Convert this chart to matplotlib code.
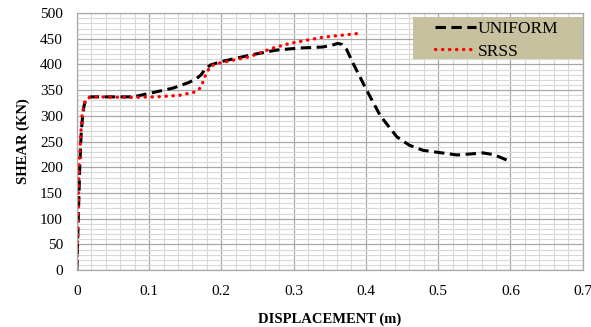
import matplotlib
matplotlib.use("Agg")
import matplotlib.pyplot as plt
from matplotlib.patches import Rectangle
from matplotlib.ticker import MultipleLocator

plt.rcParams['font.family'] = ['Liberation Serif', 'DejaVu Serif']

# UNIFORM load pattern (black dashed)
uni_x = [0.0, 0.002, 0.004, 0.006, 0.008, 0.010, 0.0125, 0.016, 0.02, 0.032, 0.078, 0.101,
         0.133, 0.155, 0.166, 0.172, 0.178, 0.185, 0.198, 0.239, 0.276, 0.308, 0.34,
         0.352, 0.361, 0.367, 0.373, 0.382, 0.401, 0.42, 0.443, 0.46, 0.479, 0.5,
         0.526, 0.545, 0.562, 0.575, 0.585, 0.595]
uni_y = [0, 100, 200, 265, 300, 320, 332, 336, 337, 337, 337, 344,
         354, 365, 373, 380, 392, 399, 405, 418, 428, 432, 434,
         437, 441, 439, 430, 403, 350, 300, 259, 243, 233, 229,
         224, 226, 228, 225, 220, 214]

# SRSS load pattern (red dotted)
srss_x = [0.0, 0.002, 0.003, 0.005, 0.007, 0.010, 0.012, 0.016, 0.02, 0.078, 0.11, 0.142,
          0.165, 0.172, 0.177, 0.184, 0.19, 0.198, 0.239, 0.271, 0.295, 0.34, 0.394]
srss_y = [0, 110, 200, 250, 298, 322, 331, 335, 337, 336, 337, 340,
          347, 356, 376, 395, 400, 403, 415, 432, 441, 453, 461]

x_ticks = [0, 0.1, 0.2, 0.3, 0.4, 0.5, 0.6, 0.7]
x_labels = ["0", "0.1", "0.2", "0.3", "0.4", "0.5", "0.6", "0.7"]

fig = plt.figure(figsize=(5.91, 3.27), dpi=100)
ax = fig.add_axes([0.130, 0.174, 0.856, 0.786])

ax.plot(uni_x, uni_y, color="black", lw=2.2, ls=(0, (3.4, 1.8)), label="UNIFORM")
ax.plot(srss_x, srss_y, color="#ff0000", lw=2.4, ls=(0, (0.1, 2.0)),
        dash_capstyle="round", label="SRSS")

ax.set_xlim(0, 0.7)
ax.set_ylim(0, 500)
ax.set_xticks(x_ticks)
ax.set_xticklabels(x_labels)
ax.yaxis.set_major_locator(MultipleLocator(50))
ax.xaxis.set_minor_locator(MultipleLocator(0.02))
ax.yaxis.set_minor_locator(MultipleLocator(10))

ax.grid(which="major", color="#a8a8a8", lw=0.9)
ax.grid(which="minor", color="#d8d8d8", lw=0.8)
ax.set_axisbelow(True)
ax.tick_params(which="both", length=0)
ax.tick_params(axis="x", labelsize=11, pad=11)
ax.tick_params(axis="y", labelsize=11, pad=10)
for s in ax.spines.values():
    s.set_color("#a8a8a8")
    s.set_linewidth(0.9)

ax.set_xlabel("DISPLACEMENT (m)", fontsize=10.5, fontweight="bold", labelpad=10)
ax.set_ylabel("SHEAR (KN)", fontsize=10.5, fontweight="bold", labelpad=7)

# legend panel: tan box with wide side margins
ax.add_patch(Rectangle((0.664, 0.821), 0.336, 0.163, transform=ax.transAxes,
                       facecolor="#c8c1a0", edgecolor="none", zorder=4))
leg = ax.legend(loc="center", bbox_to_anchor=(0.830, 0.894), fontsize=12.5,
                frameon=False, handlelength=2.35, handletextpad=0.1,
                borderpad=0, labelspacing=0.35)
leg.set_zorder(5)

fig.savefig("out.png", dpi=100)
